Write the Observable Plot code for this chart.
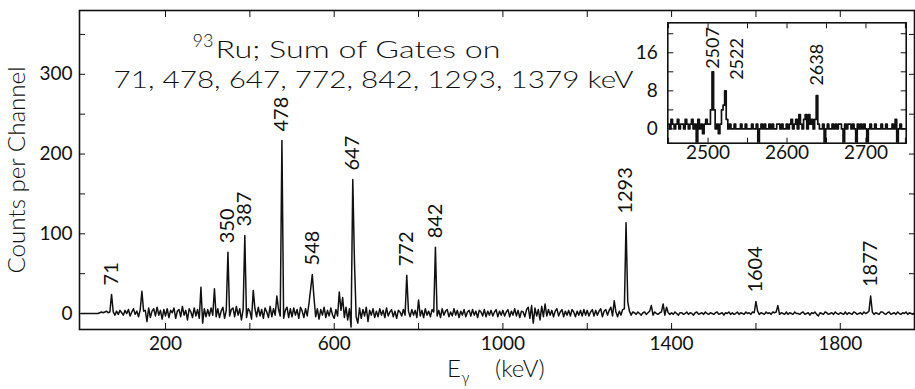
<!DOCTYPE html>
<html><head><meta charset="utf-8">
<script src="https://cdn.jsdelivr.net/npm/d3@7"></script>
<script src="https://cdn.jsdelivr.net/npm/@observablehq/plot@0.6"></script>
<style>
html,body{margin:0;padding:0;background:#fff;}
#wrap{position:relative;width:915px;height:389px;overflow:hidden;background:#fff;}
#wrap svg{position:absolute;}
</style></head><body><div id="wrap"></div>
<script>
// ---- main spectrum: counts per 4-keV channel, starting at 0 keV ----
const channelKeV = 4;
const counts = [
  0,0,0,0,0,0,0,0,0,0,0,1,2,1,2,3,1,2,24,2,-2,3,-1,4,1,
  -2,4,0,5,-3,2,6,-1,3,-4,5,28,3,4,-10,7,-5,3,6,-3,8,-2,4,-7,5,
  -3,6,-5,4,1,7,-6,3,5,-4,9,-2,4,-8,6,2,-5,7,-3,5,-6,33,-12,6,-4,
  5,-3,7,-2,31,-4,6,-5,3,8,-6,4,77,-3,5,7,-4,9,-2,6,-8,5,98,-5,6,
  3,-7,29,6,-4,8,-3,5,-6,7,2,-5,9,-4,6,-2,22,5,-3,217,-6,4,8,-5,6,
  -4,7,-2,5,-6,8,3,-5,6,-3,12,30,49,20,-4,6,-7,5,-2,8,-5,4,-3,7,-2,
  -6,5,-3,27,4,20,-5,8,-8,6,-17,168,65,-4,-12,7,-6,5,-3,8,-10,4,-2,6,-5,
  3,-4,6,-2,4,-5,7,-3,2,5,-4,3,-6,4,2,-3,5,-2,48,3,-4,5,-2,4,-5,
  17,-3,4,-5,6,-2,3,-4,5,2,83,-3,4,-5,6,-2,3,5,-4,2,-3,6,-2,4,-5,
  3,-2,5,-4,2,4,-3,5,-2,3,-5,4,2,-3,5,-4,3,-2,4,-3,2,5,-4,3,-2,
  4,-3,2,5,-4,3,-2,6,-3,4,-5,3,2,-4,5,8,-6,10,-12,7,-3,5,-8,9,-4,
  12,-3,5,-2,4,-4,3,6,-3,2,5,-4,3,-2,4,-3,5,2,-4,3,-2,4,-3,5,-2,
  4,-3,2,5,-3,4,-2,3,6,-4,3,5,-2,4,8,-3,16,2,-4,3,-2,5,6,114,15,
  3,-2,2,1,-1,2,0,-2,1,2,-1,1,3,10,-2,2,0,-1,1,2,12,-2,8,1,-1,
  1,-1,2,0,-2,1,1,-1,0,2,-1,1,0,-2,1,2,-1,0,1,-1,2,0,-1,1,0,
  -1,1,2,-1,0,1,-2,1,0,2,-1,1,-1,0,2,-1,1,0,-1,2,0,1,-1,2,1,
  15,3,-1,1,0,-1,2,0,1,-1,2,1,2,10,-1,1,0,-1,2,-1,1,0,-1,2,0,
  0,-1,1,2,-1,0,1,-2,1,0,2,-1,-3,1,0,-1,2,1,-1,0,1,-1,2,0,-1,
  1,0,-1,2,-1,1,0,-1,2,1,-1,0,1,-1,2,0,1,3,22,2,-1,1,0,-1,2,
  2,0,-1,1,2,-1,0,1,-1,2,0,-1,1,0,2,-1,1,0,-1,1
];
const peakLabels   = ["71","350","387","478","548","647","772","842","1293","1604","1877"];
const peakEnergies = [72, 348, 388, 476, 548, 644, 772, 840, 1292, 1600, 1872];

const xTicks      = [200,400,600,800,1000,1200,1400,1600,1800];
const xTickLabels = [200,600,1000,1400,1800];
const yTicks      = [0,50,100,150,200,250,300,350];
const yTickLabels = [0,100,200,300];

const titleMass  = "93";
const titleLine1 = "Ru; Sum of Gates on";
const titleLine2 = "71, 478, 647, 772, 842, 1293, 1379 keV";
const yTitle = "Counts per Channel";
const xTitleE = "E", xTitleSub = "γ", xTitleUnit = "(keV)";

// ---- inset: counts per 2-keV channel from 2450 keV ----
const insetStart = 2450, insetStep = 2;
const insetCounts = [
  1,0,2,1,0,1,2,0,1,1,
  0,2,1,0,1,2,0,1,-4,2,
  0,1,-1,1,2,1,1,4,12,4,
  0,1,-1,1,4,5,8,2,0,1,
  0,0,1,0,0,0,1,0,0,1,
  0,0,0,1,0,0,1,-4,0,1,
  0,1,0,0,1,0,1,0,0,1,
  1,0,1,0,0,1,0,1,2,0,
  1,2,0,3,1,0,2,3,0,3,
  1,2,0,2,7,1,0,0,1,-4,
  0,1,0,0,1,0,1,0,1,1,
  0,-4,1,0,1,1,0,1,0,-4,
  1,0,1,0,1,0,-4,0,1,0,
  0,1,0,0,0,1,0,0,1,0,
  0,0,1,0,2,-4,0,1,0,0,
  0
];
const insetLabels   = ["2507","2522","2638"];
const insetEnergies = [2506, 2522, 2638];
const insetXTicks      = [2450,2500,2550,2600,2650,2700,2750];
const insetXTickLabels = [2500,2600,2700];
const insetYTicks      = [0,4,8,12,16,20];
const insetYTickLabels = [0,8,16];

// ---------------------------------------------------------------
const FONT = "Lato, 'DejaVu Sans', sans-serif";
const wrap = document.getElementById("wrap");
const fmt = d3.format("d");

const spectrum = counts.map((c, i) => ({e: i * channelKeV, c}));
const peaks = peakLabels.map((t, i) => ({t, e: peakEnergies[i], c: counts[Math.round(peakEnergies[i] / channelKeV)]}));

const ink = "#111";
const main = Plot.plot({
  width: 915, height: 389,
  marginLeft: 79, marginRight: 1, marginTop: 10, marginBottom: 60,
  style: {fontFamily: FONT, background: "transparent", overflow: "visible", color: ink},
  x: {domain: [-4, 1976]},
  y: {domain: [-20, 380]},
  marks: [
    Plot.line(spectrum, {x: "e", y: "c", stroke: ink, strokeWidth: 1.5, clip: true}),
    Plot.text(peaks, {x: "e", y: "c", text: "t", rotate: -90, textAnchor: "start", lineAnchor: "middle", dy: -9, fontSize: 20, fill: ink}),
    Plot.frame({stroke: ink, strokeWidth: 1.6}),
    Plot.axisX({ticks: xTicks, anchor: "bottom", tickSize: 6, dy: -6, tickFormat: () => "", label: null}),
    Plot.axisX({ticks: xTicks, anchor: "top", tickSize: 6, dy: 6, tickFormat: () => "", label: null}),
    Plot.axisX({ticks: xTickLabels, anchor: "bottom", tickSize: 0, tickPadding: 7, tickFormat: fmt, fontSize: 19, label: null}),
    Plot.axisY({ticks: yTicks, anchor: "left", tickSize: 6, dx: 6, tickFormat: () => "", label: null}),
    Plot.axisY({ticks: yTicks, anchor: "right", tickSize: 6, dx: -6, tickFormat: () => "", label: null}),
    Plot.axisY({ticks: yTickLabels, anchor: "left", tickSize: 0, tickPadding: 7, tickFormat: fmt, fontSize: 19, label: null}),
    Plot.text([titleMass], {text: d => d, frameAnchor: "top-left", dx: 113, dy: 36.7, textAnchor: "start", lineAnchor: "bottom", fontSize: 18, fontWeight: 300, fill: ink}),
    Plot.text([titleLine1], {text: d => d, frameAnchor: "top-left", dx: 136, dy: 47.3, textAnchor: "start", lineAnchor: "bottom", fontSize: 23, fontWeight: 300, fill: ink}),
    Plot.text([titleLine2], {text: d => d, frameAnchor: "top-left", dx: 34, dy: 77.3, textAnchor: "start", lineAnchor: "bottom", fontSize: 23, fontWeight: 300, fill: ink}),
    Plot.text([yTitle], {text: d => d, frameAnchor: "left", dx: -61.5, rotate: -90, textAnchor: "middle", lineAnchor: "middle", fontSize: 23, fontWeight: 300, fill: ink}),
    Plot.text([xTitleE], {text: d => d, frameAnchor: "bottom", dx: -50, dy: 47.7, textAnchor: "start", lineAnchor: "bottom", fontSize: 24, fontWeight: 300, fill: ink}),
    Plot.text([xTitleSub], {text: d => d, frameAnchor: "bottom", dx: -36, dy: 53, textAnchor: "start", lineAnchor: "bottom", fontSize: 16, fontWeight: 300, fill: ink}),
    Plot.text([xTitleUnit], {text: d => d, frameAnchor: "bottom", dx: -2, dy: 47.7, textAnchor: "start", lineAnchor: "bottom", fontSize: 24, fontWeight: 300, fill: ink})
  ]
});
main.style.left = "0px"; main.style.top = "0px";
wrap.appendChild(main);

const insetData = insetCounts.map((c, i) => ({e: insetStart + i * insetStep, c}));
const insetPeaks = insetLabels.map((t, i) => ({t, e: insetEnergies[i], c: insetCounts[Math.round((insetEnergies[i] - insetStart) / insetStep)]}));
const lab = (t) => insetPeaks.filter(d => d.t === t);

const inset = Plot.plot({
  width: 285, height: 165,
  marginLeft: 37.3, marginRight: 9.3, marginTop: 12.3, marginBottom: 32.3,
  style: {fontFamily: FONT, background: "transparent", overflow: "visible", color: ink},
  x: {domain: [2449, 2751]},
  y: {domain: [-3, 22.3]},
  marks: [
    Plot.line(insetData, {x: "e", y: "c", curve: "step", stroke: ink, strokeWidth: 1.7, clip: true}),
    Plot.text(lab("2507"), {x: "e", y: "c", text: "t", rotate: -90, textAnchor: "start", lineAnchor: "middle", dy: -3, fontSize: 18, fill: ink}),
    Plot.text(lab("2522"), {x: "e", y: "c", text: "t", rotate: -90, textAnchor: "start", lineAnchor: "middle", dx: 12, dy: -11, fontSize: 18, fill: ink}),
    Plot.text(lab("2638"), {x: "e", y: "c", text: "t", rotate: -90, textAnchor: "start", lineAnchor: "middle", dy: -10, fontSize: 18, fill: ink}),
    Plot.frame({stroke: ink, strokeWidth: 1.6}),
    Plot.axisX({ticks: insetXTicks, anchor: "bottom", tickSize: 5, dy: -5, tickFormat: () => "", label: null}),
    Plot.axisX({ticks: insetXTicks, anchor: "top", tickSize: 5, dy: 5, tickFormat: () => "", label: null}),
    Plot.axisX({ticks: insetXTickLabels, anchor: "bottom", tickSize: 0, tickPadding: 2, tickFormat: fmt, fontSize: 19, label: null}),
    Plot.axisY({ticks: insetYTicks, anchor: "left", tickSize: 6, dx: 6, tickFormat: () => "", label: null}),
    Plot.axisY({ticks: insetYTicks, anchor: "right", tickSize: 6, dx: -6, tickFormat: () => "", label: null}),
    Plot.axisY({ticks: insetYTickLabels, anchor: "left", tickSize: 0, tickPadding: 10, tickFormat: fmt, fontSize: 19, label: null})
  ]
});
inset.style.left = "630px"; inset.style.top = "10px";
wrap.appendChild(inset);

// stretch wide display lettering to the reference extents
function fit(svg, str, len) {
  svg.querySelectorAll("text").forEach(t => {
    if (t.textContent === str) { t.setAttribute("textLength", len); t.setAttribute("lengthAdjust", "spacingAndGlyphs"); }
  });
}
fit(main, titleLine1, 285);
fit(main, titleLine2, 520);
fit(main, yTitle, 207);
</script>
</body></html>
